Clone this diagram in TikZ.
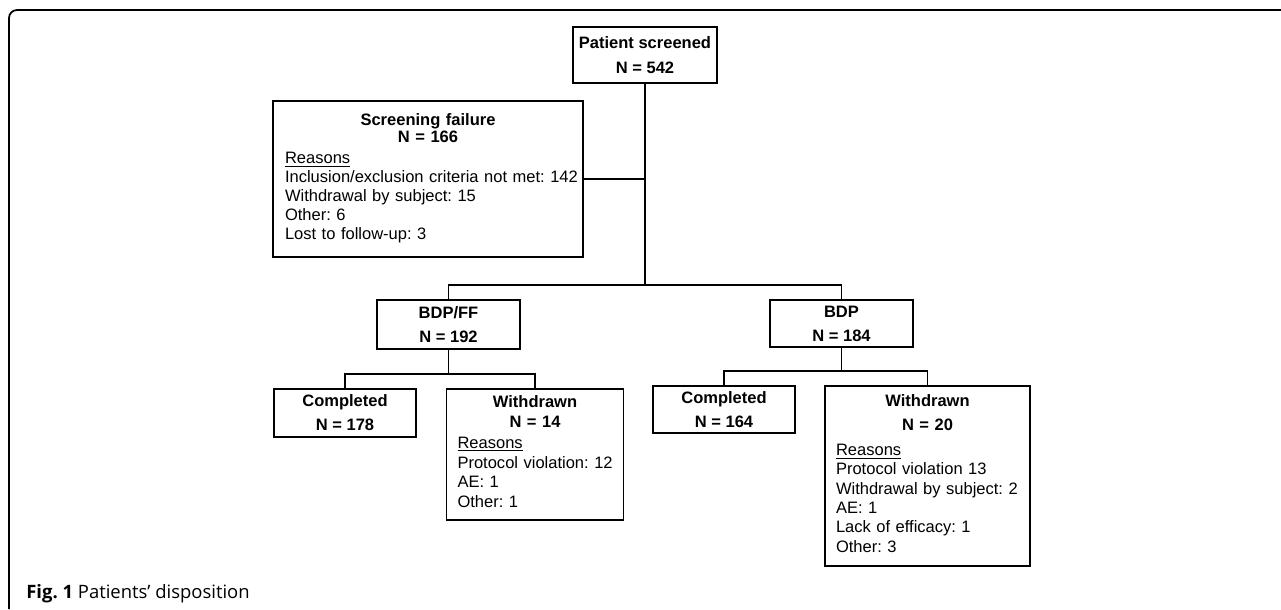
\documentclass[tikz,border=0pt]{standalone}
\usepackage{amsmath}
\usepackage{xcolor}
\usepackage{fontspec}
\setmainfont{Liberation Sans}
\newfontfamily\capfont{Open Sans}
\usepackage{tikz}

\begin{document}
\frenchspacing
\begin{tikzpicture}[x=0.02cm, y=-0.02cm,
        box/.style={draw, rectangle, line width=1pt, inner sep=0pt, font=\fontsize{9.4}{11.3}\selectfont},
        link/.style={line width=1pt}]
        \useasboundingbox (0,0) rectangle (1281,609);
        % Frame around the figure
        \draw[line width=1pt, rounded corners=0.16cm] (1281,10) -- (9,10) -- (9,609);

        % Define nodes as rectangles (boxes)
        \node[box, minimum width=2.88cm, minimum height=1.12cm, align=center] (PS) at (645,55) {\textbf{Patient screened}\\[2.5pt]\textbf{N = 542}};
        \node[box, minimum width=6.2cm, minimum height=3.12cm, text width=5.72cm] (SF) at (428,179) {{\centering\textbf{Screening failure}\\[-1.4pt]\textbf{N = 166}\par}\vspace{0.6pt}\renewcommand\arraystretch{0.95}\begin{tabular}[t]{@{}l@{}}\underline{Reasons}\\Inclusion/exclusion criteria not met: 142\\Withdrawal by subject: 15\\Other: 6\\Lost to follow-up: 3\end{tabular}};

        \node[box, minimum width=2.86cm, minimum height=0.98cm, align=center] (BDPFF) at (448.5,324.5) {\textbf{BDP/FF}\\[2.3pt]\textbf{N = 192}};
        \node[box, minimum width=2.86cm, minimum height=0.94cm, align=center] (BDP) at (841.5,323.5) {\textbf{BDP}\\[2.3pt]\textbf{N = 184}};

        \node[box, minimum width=2.84cm, minimum height=0.96cm, align=center] (CompL) at (345,413) {\textbf{Completed}\\[2.3pt]\textbf{N = 178}};
        \node[box, minimum width=3.54cm, minimum height=2.62cm, text width=3.1cm] (WdL) at (535,454.5) {{\centering\textbf{Withdrawn}\\[0.4pt]\textbf{N = 14}\par}\vspace{0.4pt}\begin{tabular}[t]{@{}l@{}}\underline{Reasons}\\Protocol violation: 12\\AE: 1\\Other: 1\end{tabular}};

        \node[box, minimum width=2.84cm, minimum height=0.94cm, align=center] (CompR) at (724,409.5) {\textbf{Completed}\\[2pt]\textbf{N = 164}};
        \node[box, minimum width=4.1cm, minimum height=3.6cm, text width=3.66cm] (WdR) at (927.5,476) {{\centering\textbf{Withdrawn}\\[2.3pt]\textbf{N = 20}\par}\vspace{3.3pt}\renewcommand\arraystretch{0.97}\begin{tabular}[t]{@{}l@{}}\underline{Reasons}\\Protocol violation 13\\Withdrawal by subject: 2\\AE: 1\\Lack of efficacy: 1\\Other: 3\end{tabular}};

        % Define split points
        \coordinate (split) at (645,285);
        \coordinate (splitL) at (448.5,374);
        \coordinate (splitR) at (841.5,371);

        % Define edges
        \draw[link] (PS) -- (split);
        \draw[link] (SF.east) -- (SF.east -| split);
        \draw[link] (BDPFF.north) |- (split) -| (BDP.north);
        \draw[link] (BDPFF) -- (splitL);
        \draw[link] (CompL.north) |- (splitL) -| (WdL.north);
        \draw[link] (BDP) -- (splitR);
        \draw[link] (CompR.north) |- (splitR) -| (WdR.north);

        % Caption
        \node[anchor=west, inner sep=0pt, font=\capfont\fontsize{10.5}{12}\selectfont] (cap) at (26,594) {\textbf{Fig. 1} Patients’ disposition};
\end{tikzpicture}
\end{document}
